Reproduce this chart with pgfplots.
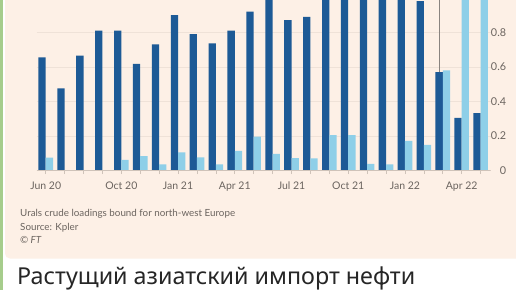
\documentclass[border=0pt]{standalone}
\usepackage{fontspec}
\setmainfont{Lato}
\newfontfamily\rufont{Noto Sans}
\usepackage{pgfplots}
\pgfplotsset{compat=1.18}
\definecolor{peach}{HTML}{FDF0E6}
\definecolor{darkb}{HTML}{1D5A96}
\definecolor{lightb}{HTML}{8ECFE8}
\definecolor{ftgrey}{HTML}{6B645F}
\definecolor{gridc}{HTML}{EFE2D8}
\definecolor{axc}{HTML}{CFC3B9}
\definecolor{tgreen}{HTML}{A6CD8C}
\pgfplotstableread{
idx dark light
0 0.655 0.075
1 0.476 0
2 0.665 0
3 0.81 0
4 0.81 0.062
5 0.618 0.085
6 0.73 0.037
7 0.90 0.106
8 0.79 0.077
9 0.736 0.037
10 0.81 0.114
11 0.92 0.197
12 1.05 0.098
13 0.87 0.073
14 0.89 0.072
15 1.05 0.206
16 1.08 0.206
17 1.06 0.04
18 1.02 0.037
19 1.04 0.173
20 0.98 0.149
21 0.57 0.58
22 0.305 1.10
23 0.333 1.10
}\datatable
\begin{document}
\begin{tikzpicture}[x=1pt,y=1pt]
\useasboundingbox (0,0) rectangle (516,290);
\clip (0,0) rectangle (516,290);
\fill[white] (0,0) rectangle (516,290);
\fill[peach, rounded corners=5pt] (5,31.5) rectangle (540,320);
\fill[tgreen] (0,0) rectangle (3,290);
\begin{axis}[
  at={(36.5pt,119.3pt)}, anchor=south west,
  scale only axis, width=454.1pt, height=170.7pt,
  xmin=-0.487, xmax=23.53, ymin=0, ymax=0.987,
  ybar=0pt, bar width=7.3pt,
  axis line style={draw=none},
  axis x line*=bottom,
  ytick={0,0.2,0.4,0.6,0.8},
  yticklabels={0,0.2,0.4,0.6,0.8},
  yticklabel pos=right,
  ymajorgrids, grid style={gridc, line width=0.8pt},
  y tick style={draw=none},
  yticklabel style={anchor=east, xshift=19pt, font=\fontsize{10.8}{11}\selectfont, text=ftgrey},
  xtick={0,...,23},
  xticklabels={Jun 20,,,,Oct 20,,,Jan 21,,,Apr 21,,,Jul 21,,,Oct 21,,,Jan 22,,,Apr 22,},
  x tick style={axc, line width=0.6pt},
  xtick pos=bottom, xtick align=outside, major tick length=3.5pt,
  xticklabel style={font=\fontsize{10.5}{11}\selectfont, text=ftgrey, yshift=-4.5pt},
  /pgf/number format/assume math mode=true,
  clip=true,
]
\addplot[fill=darkb, draw=none] table[x=idx, y=dark] {\datatable};
\addplot[fill=lightb, draw=none] table[x=idx, y=light] {\datatable};
\draw[axc, line width=0.8pt] (axis cs:-0.487,0) -- (axis cs:23.53,0);
\draw[ftgrey!80, line width=0.5pt] (axis cs:20.807,0.57) -- (axis cs:20.807,0.987);
\end{axis}
\begin{scope}[every node/.style={anchor=base west, inner sep=0pt, text=ftgrey, font=\fontsize{9.8}{10}\selectfont}]
\node at (20,73.5) {Urals crude loadings bound for north-west Europe};
\node at (20,60) {Source: Kpler};
\node at (20,46.5) {\itshape\textcopyright\ FT};
\end{scope}
\node[anchor=base west, inner sep=0pt, font=\rufont\fontsize{23.3}{25}\selectfont, text=black!85] at (17,6) {Растущий азиатский импорт нефти};
\end{tikzpicture}
\end{document}
